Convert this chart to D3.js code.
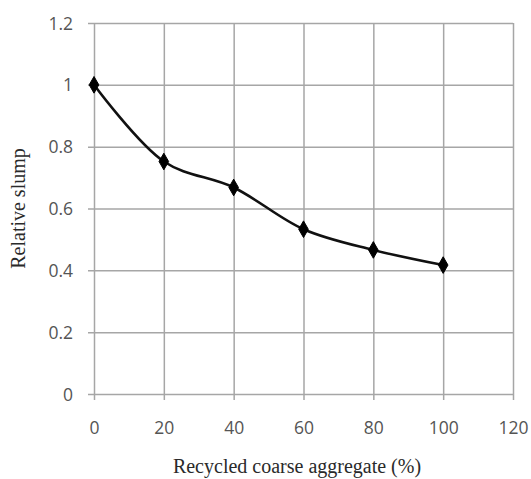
<!DOCTYPE html>
<html>
<head>
<meta charset="utf-8">
<script src="https://cdn.jsdelivr.net/npm/d3@7"></script>
<style>
  body { margin: 0; background: #fff; }
  .tick text { font-family: "Open Sans", Arial, sans-serif; font-size: 17.5px; fill: #555; }
  .title { font-family: "Liberation Serif", "Times New Roman", serif; font-size: 20px; fill: #2a2a2a; }
</style>
</head>
<body>
<div id="chart"></div>
<script>
// values
const recycledPct = [0, 20, 40, 60, 80, 100];
const relativeSlump = [1, 0.752, 0.668, 0.533, 0.466, 0.417];
const xTicks = [0, 20, 40, 60, 80, 100, 120];
const yTicks = [0, 0.2, 0.4, 0.6, 0.8, 1, 1.2];

const width = 531, height = 479;
const margin = { top: 23, right: 18, bottom: 85, left: 94 };

const svg = d3.select("#chart")
  .append("svg")
  .attr("width", width)
  .attr("height", height);

const x = d3.scaleLinear().domain([0, 120]).range([margin.left, width - margin.right]);
const y = d3.scaleLinear().domain([0, 1.2]).range([height - margin.bottom, margin.top]);

const gridColor = "#a6a6a6";

// vertical grid + ticks below the axis
const xAxis = svg.append("g")
  .attr("transform", `translate(0,${y(0)})`)
  .call(d3.axisBottom(x).tickValues(xTicks).tickFormat(d3.format("d")).tickSizeOuter(0));
xAxis.select(".domain").remove();
xAxis.selectAll(".tick line").attr("stroke", gridColor).attr("stroke-width", 1.5)
  .attr("y1", 6).attr("y2", -(y(0) - y(1.2)));
xAxis.selectAll(".tick text").attr("dy", null).attr("y", 40);

// horizontal grid + ticks left of the axis
const yAxis = svg.append("g")
  .attr("transform", `translate(${x(0)},0)`)
  .call(d3.axisLeft(y).tickValues(yTicks).tickFormat(d => d3.format("")(+d.toFixed(1)))
    .tickSizeOuter(0));
yAxis.select(".domain").remove();
yAxis.selectAll(".tick line").attr("stroke", gridColor).attr("stroke-width", 1.5)
  .attr("x1", -6).attr("x2", x(120) - x(0));
yAxis.selectAll(".tick text").attr("x", -21).attr("dy", "0.35em");

const points = recycledPct.map((d, i) => [d, relativeSlump[i]]);

const line = d3.line()
  .x(d => x(d[0]))
  .y(d => y(d[1]))
  .curve(d3.curveCatmullRom.alpha(0.5));

svg.append("path")
  .datum(points)
  .attr("d", line)
  .attr("fill", "none")
  .attr("stroke", "#111")
  .attr("stroke-width", 2.6);

svg.selectAll(".marker")
  .data(points)
  .enter()
  .append("path")
  .attr("class", "marker")
  .attr("d", d3.symbol().type(d3.symbolDiamond).size(80))
  .attr("transform", d => `translate(${x(d[0])},${y(d[1])})`)
  .attr("fill", "#000")
  .attr("stroke", "#000")
  .attr("stroke-width", 1)
  .attr("stroke-linejoin", "round");

svg.append("text")
  .attr("class", "title")
  .attr("x", 297)
  .attr("y", 473)
  .attr("text-anchor", "middle")
  .text("Recycled coarse aggregate (%)");

svg.append("text")
  .attr("class", "title")
  .attr("transform", `translate(25,${(y(0) + y(1.2)) / 2}) rotate(-90)`)
  .attr("text-anchor", "middle")
  .text("Relative slump");
</script>
</body>
</html>
